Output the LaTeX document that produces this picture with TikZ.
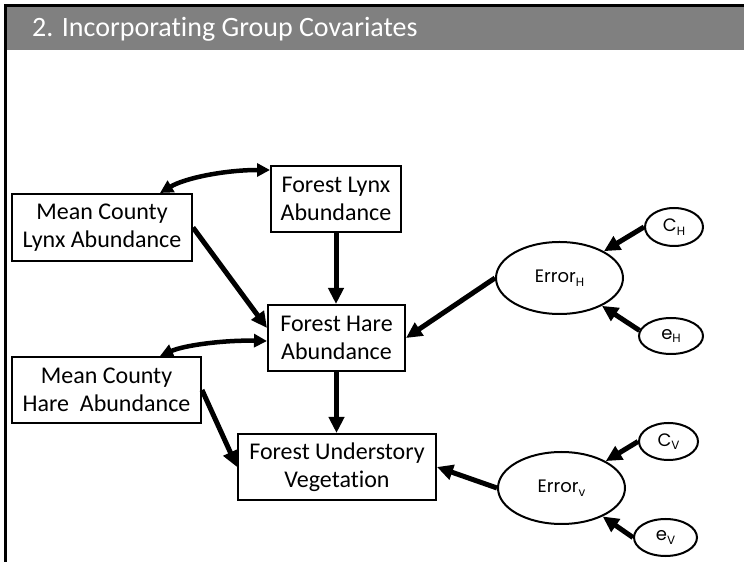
\documentclass[tikz,border=0pt]{standalone}
\usepackage{fontspec}
\setmainfont{Carlito}[Ligatures={NoCommon}]
\newfontfamily\ellfont{Poppins}
\usetikzlibrary{arrows.meta,calc,shapes.geometric}
\definecolor{bandgray}{RGB}{128,128,128}
\newcommand{\subtxt}[1]{{\fontsize{12}{12}\selectfont\raisebox{-3.5pt}{#1}}}
\begin{document}
\begin{tikzpicture}[x=1pt,y=1pt,
  varbox/.style={draw, line width=2pt, inner sep=0pt, align=center,
    font=\fontsize{24}{28}\selectfont},
  errell/.style={draw, ellipse, line width=2pt, inner sep=0pt,
    font=\ellfont\fontsize{18}{20}\selectfont},
  dirpath/.style={line width=5pt, -{Triangle[length=16pt,width=15pt]}},
  twoway/.style={line width=4.5pt, {Triangle[length=13pt,width=13pt]}-{Triangle[length=13pt,width=13pt]}}]
\useasboundingbox (0,0) rectangle (744,562);

% header band and frame
\fill[bandgray] (6.7,555) rectangle (744,512);
\draw[line width=2.7pt] (5.3,0) -- (5.3,556.3) -- (744,556.3);
\node[anchor=base west, text=white, inner sep=0pt, font=\fontsize{28}{32}\selectfont]
  (title) at (32,525.3) {2. Incorporating Group Covariates};

% observed variables
\node[varbox, minimum width=180pt, minimum height=67pt] (mlynx) at (102,334.5) {Mean County\\Lynx Abundance};
\node[varbox, minimum width=130pt, minimum height=66pt] (flynx) at (336,363) {Forest Lynx\\Abundance};
\node[varbox, minimum width=137pt, minimum height=66pt] (fhare) at (336.5,224) {Forest Hare\\Abundance};
\node[varbox, minimum width=189pt, minimum height=66pt] (mhare) at (106.5,172) {Mean County\\Hare\ \ Abundance};
\node[varbox, minimum width=198pt, minimum height=66pt] (fveg) at (337,95) {Forest Understory\\Vegetation};

% error terms
\node[errell, minimum width=127pt, minimum height=72pt] (errH) at (559.5,284) {Error\subtxt{H}};
\node[errell, minimum width=58pt, minimum height=38pt] (cH) at (674,335) {C\subtxt{H}};
\node[errell, minimum width=64pt, minimum height=36pt] (eH) at (671,226) {e\subtxt{H}};
\node[errell, minimum width=127pt, minimum height=72pt] (errV) at (561.5,74) {Error\subtxt{v}};
\node[errell, minimum width=59pt, minimum height=37pt] (cV) at (668.5,120.5) {C\subtxt{V}};
\node[errell, minimum width=63pt, minimum height=37pt] (eV) at (665.5,24.5) {e\subtxt{V}};

% correlations
\draw[twoway] ($(mlynx.north west)+(149,0)$) .. controls (185,384) and (225,392) .. ($(flynx.north west)+(0,-5)$);
\draw[twoway] ($(mhare.north west)+(149,0)$) .. controls (185,217) and (225,222) .. ($(fhare.west)+(0,-3)$);

% directed paths
\draw[dirpath] (mlynx.east) -- ($(fhare.west)+(0,10)$);
\draw[dirpath] (flynx.south) -- (flynx.south |- fhare.north);
\draw[dirpath] (fhare.south) -- (fhare.south |- fveg.north);
\draw[dirpath] (mhare.east) -- (fveg.west);
\draw[dirpath] (errH.west) -- (fhare.east);
\draw[dirpath] (errV.west) -- (fveg.east);
\draw[dirpath] (cH.west) -- (errH);
\draw[dirpath] (eH.170) -- (errH);
\draw[dirpath] (cV.west) -- (errV);
\draw[dirpath] (eV.west) -- (errV);
\end{tikzpicture}
\end{document}
